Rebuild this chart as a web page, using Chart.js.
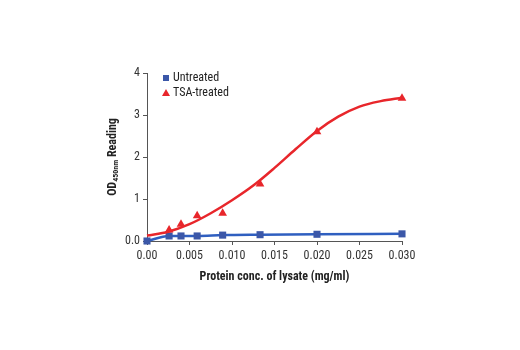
<!DOCTYPE html>
<html>
<head>
<meta charset="utf-8">
<script src="https://cdn.jsdelivr.net/npm/chart.js@4/dist/chart.umd.min.js"></script>
<style>
  html, body { margin: 0; padding: 0; background: #fff; }
  #wrap { width: 520px; height: 350px; }
</style>
</head>
<body>
<div id="wrap"><canvas id="odChart" width="520" height="350"></canvas></div>
<script>
// data
const conc = [0, 0.0026, 0.0040, 0.0059, 0.0089, 0.0133, 0.0200, 0.0300];
const untreated = [0.00, 0.12, 0.12, 0.12, 0.14, 0.15, 0.16, 0.17];
const tsaConc = [0.0026, 0.0040, 0.0059, 0.0089, 0.0133, 0.0200, 0.0300];
const tsaTreated = [0.26, 0.40, 0.60, 0.66, 1.36, 2.60, 3.40];
// fitted curve for TSA-treated
const fitConc = [0, 0.0025, 0.005, 0.0075, 0.010, 0.0125, 0.015, 0.0175, 0.020, 0.0225, 0.025, 0.0275, 0.030];
const fitTsa = [0.13, 0.22, 0.40, 0.66, 0.97, 1.32, 1.74, 2.19, 2.62, 2.96, 3.20, 3.33, 3.41];
const xTicks = [0, 0.005, 0.010, 0.015, 0.020, 0.025, 0.030];
const yTicks = [0, 1, 2, 3, 4];

const FONT = "'Liberation Sans Narrow', 'Roboto Condensed', 'Liberation Sans', Arial, sans-serif";
const BLUE = "#2f5fc0";
const BLUE_MK = "#3b57a8";
const RED = "#e8262b";

const pts = (xs, ys) => xs.map((x, i) => ({ x: x, y: ys[i] }));

// titles + legend drawn by hand
const extras = {
  id: "extras",
  afterDraw(chart) {
    const ctx = chart.ctx;
    const a = chart.chartArea;
    ctx.save();
    ctx.fillStyle = "#222";
    // x title
    ctx.font = "bold 12px " + FONT;
    ctx.textAlign = "center";
    ctx.textBaseline = "middle";
    ctx.fillText("Protein conc. of lysate (mg/ml)", (a.left + a.right) / 2, 277);
    // y title with subscript
    ctx.translate(113, (a.top + a.bottom) / 2);
    ctx.rotate(-Math.PI / 2);
    const p1 = "OD", p2 = "450nm", p3 = " Reading";
    ctx.font = "bold 12px " + FONT;
    const w1 = ctx.measureText(p1).width, w3 = ctx.measureText(p3).width;
    ctx.font = "bold 8px " + FONT;
    const w2 = ctx.measureText(p2).width;
    let x0 = -(w1 + w2 + w3) / 2;
    ctx.textAlign = "left";
    ctx.font = "bold 12px " + FONT;
    ctx.fillText(p1, x0, 0);
    ctx.font = "bold 8px " + FONT;
    ctx.fillText(p2, x0 + w1, 3);
    ctx.font = "bold 12px " + FONT;
    ctx.fillText(p3, x0 + w1 + w2, 0);
    ctx.restore();

    // legend
    ctx.save();
    ctx.font = "12px " + FONT;
    ctx.textBaseline = "middle";
    ctx.textAlign = "left";
    ctx.fillStyle = BLUE_MK;
    ctx.fillRect(163, 75, 6, 6);
    ctx.fillStyle = "#222";
    ctx.fillText("Untreated", 173, 78);
    ctx.fillStyle = RED;
    ctx.beginPath();
    ctx.moveTo(166, 89);
    ctx.lineTo(170, 96);
    ctx.lineTo(162, 96);
    ctx.closePath();
    ctx.fill();
    ctx.fillStyle = "#222";
    ctx.fillText("TSA-treated", 173, 93);
    ctx.restore();
  }
};

document.addEventListener("DOMContentLoaded", () => {
  const ctx = document.getElementById("odChart").getContext("2d");

  new Chart(ctx, {
    type: "scatter",
    data: {
      datasets: [
        {
          label: "TSA fit",
          data: pts(fitConc, fitTsa),
          showLine: true,
          borderColor: RED,
          borderWidth: 2.5,
          pointRadius: 0,
          cubicInterpolationMode: "monotone",
          fill: false
        },
        {
          label: "TSA-treated",
          data: pts(tsaConc, tsaTreated),
          showLine: false,
          pointStyle: "triangle",
          pointRadius: 5,
          backgroundColor: RED,
          borderColor: RED,
          borderWidth: 0
        },
        {
          label: "Untreated",
          data: pts(conc, untreated),
          showLine: true,
          borderColor: BLUE,
          borderWidth: 2.5,
          cubicInterpolationMode: "monotone",
          pointStyle: "rect",
          pointRadius: 5,
          backgroundColor: BLUE_MK,
          pointBorderColor: BLUE_MK,
          pointBorderWidth: 0,
          fill: false
        }
      ]
    },
    options: {
      responsive: false,
      animation: false,
      clip: false,
      layout: { padding: { top: 73, right: 118, bottom: 0, left: 0 } },
      plugins: {
        legend: { display: false },
        tooltip: { enabled: false }
      },
      scales: {
        x: {
          type: "linear",
          min: 0,
          max: 0.030,
          afterFit: (s) => { s.height = 109; },
          afterBuildTicks: (s) => { s.ticks = xTicks.map(v => ({ value: v })); },
          grid: {
            display: true,
            drawOnChartArea: false,
            drawTicks: true,
            tickLength: 4,
            color: "#555"
          },
          border: { display: true, color: "#555", width: 1 },
          ticks: {
            color: "#333",
            font: { family: FONT, size: 12 },
            padding: 4,
            maxRotation: 0,
            callback: (v) => v === 0 ? "0.00" : v.toFixed(3)
          }
        },
        y: {
          type: "linear",
          min: 0,
          max: 4,
          afterFit: (s) => { s.width = 147; },
          afterBuildTicks: (s) => { s.ticks = yTicks.map(v => ({ value: v })); },
          grid: {
            display: true,
            drawOnChartArea: false,
            drawTicks: true,
            tickLength: 4,
            color: "#555"
          },
          border: { display: true, color: "#555", width: 1 },
          ticks: {
            color: "#333",
            font: { family: FONT, size: 12 },
            padding: 3,
            callback: (v) => v === 0 ? "0.0" : String(v)
          }
        }
      }
    },
    plugins: [extras]
  });
});
</script>
</body>
</html>
